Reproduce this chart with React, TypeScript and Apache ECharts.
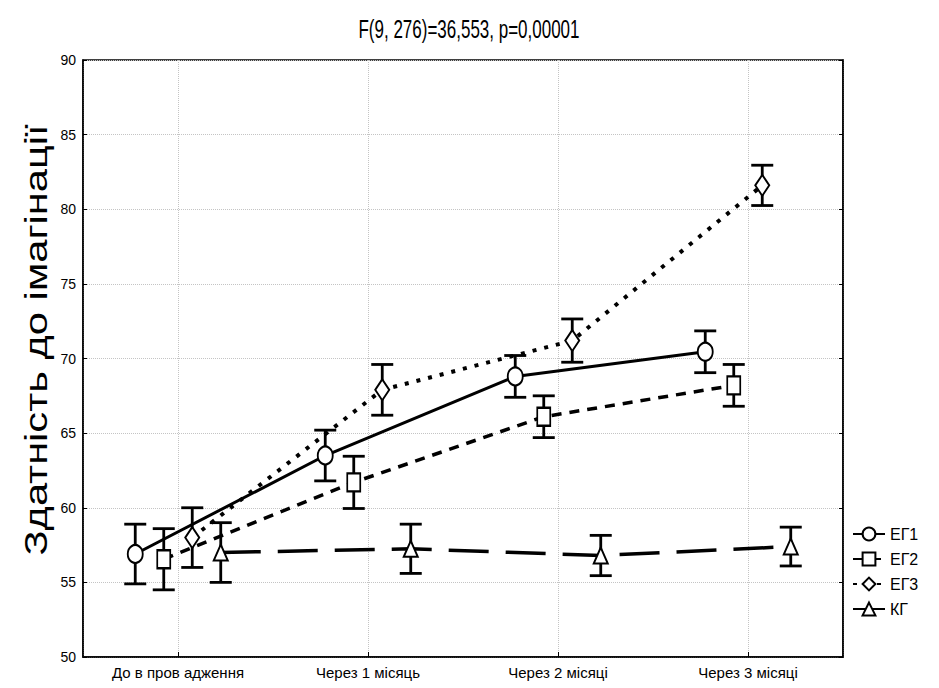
import React, { useEffect, useRef } from "react";
import * as echarts from "echarts";

const TITLE = "F(9, 276)=36,553, p=0,00001";
const Y_NAME = "Здатність до імагінації";
const categories = ["До в пров адження", "Через 1 місяць", "Через 2 місяці", "Через 3 місяці"];
const groupNames = ["ЕГ1", "ЕГ2", "ЕГ3", "КГ"];

const eg1Mean = [56.9, 63.5, 68.8, 70.45];
const eg1Err = [2.0, 1.7, 1.4, 1.4];
const eg2Mean = [56.55, 61.7, 66.1, 68.2];
const eg2Err = [2.05, 1.75, 1.4, 1.4];
const eg3Mean = [58.0, 67.9, 71.2, 81.6];
const eg3Err = [2.0, 1.7, 1.45, 1.35];
const kgMean = [57.0, 57.25, 56.8, 57.4];
const kgErr = [2.0, 1.65, 1.35, 1.3];

const yTicks = { min: 50, max: 90, interval: 5 };

const means = [eg1Mean, eg2Mean, eg3Mean, kgMean];
const errs = [eg1Err, eg2Err, eg3Err, kgErr];

const FONT = "'Liberation Sans', Arial, sans-serif";

export default function App() {
  const ref = useRef<HTMLDivElement>(null);
  useEffect(() => {
    if (!ref.current) return;
    const chart = echarts.init(ref.current, null, { renderer: "svg" });
    const offsets = [-0.225, -0.075, 0.075, 0.225];
    const symbols = ["circle", "rect", "diamond", "triangle"];
    const symbolSizes: any[] = [[15, 18], [13, 18], [14, 21], [14, 16]];
    const lineTypes: any[] = ["solid", [10, 8], [4, 8], [40, 17]];
    const lineWidths = [3, 3.5, 4, 3.5];

    const lineSeries = groupNames.map((name, k) => ({
      name,
      type: "line",
      xAxisIndex: 1,
      yAxisIndex: 0,
      data: means[k].map((v, i) => [i + offsets[k], v]),
      symbol: symbols[k],
      symbolSize: symbolSizes[k],
      showSymbol: true,
      z: 5,
      lineStyle: { color: "#000", width: lineWidths[k], type: lineTypes[k], cap: "butt" },
      itemStyle: { color: "#fff", borderColor: "#000", borderWidth: 2 },
      emphasis: { disabled: true },
    }));

    const errSeries = groupNames.map((name, k) => ({
      name: name + " err",
      type: "custom",
      xAxisIndex: 1,
      yAxisIndex: 0,
      z: 4,
      data: means[k].map((v, i) => [i + offsets[k], v - errs[k][i], v + errs[k][i]]),
      encode: { x: 0, y: [1, 2] },
      renderItem: (params: any, api: any) => {
        const x = api.value(0);
        const lo = api.coord([x, api.value(1)]);
        const hi = api.coord([x, api.value(2)]);
        const hw = 11;
        const style = { stroke: "#000", lineWidth: 2.8, fill: "none" };
        return {
          type: "group",
          children: [
            { type: "line", shape: { x1: lo[0], y1: lo[1], x2: hi[0], y2: hi[1] }, style },
            { type: "line", shape: { x1: lo[0] - hw, y1: lo[1], x2: lo[0] + hw, y2: lo[1] }, style },
            { type: "line", shape: { x1: hi[0] - hw, y1: hi[1], x2: hi[0] + hw, y2: hi[1] }, style },
          ],
        };
      },
    }));

    chart.setOption({
      animation: false,
      backgroundColor: "#fff",
      textStyle: { fontFamily: FONT },
      graphic: [
        {
          type: "text",
          x: 469,
          y: 29,
          scaleY: 1.5,
          style: { text: TITLE, font: `17px ${FONT}`, fill: "#000", textAlign: "center", textVerticalAlign: "middle" },
        },
        {
          type: "text",
          x: 36,
          y: 340,
          rotation: Math.PI / 2,
          scaleX: 1.3,
          style: { text: Y_NAME, font: `32px ${FONT}`, fill: "#000", textAlign: "center", textVerticalAlign: "middle" },
        },
      ],
      grid: { left: 83, top: 60, right: 96, bottom: 31, show: true, borderColor: "#000", borderWidth: 1.5, backgroundColor: "#fff" },
      legend: {
        orient: "vertical",
        left: 852,
        top: 526,
        itemWidth: 32,
        itemHeight: 16,
        itemGap: 9,
        padding: 0,
        data: groupNames,
        textStyle: { fontSize: 16, color: "#000", fontFamily: FONT },
      },
      xAxis: [
        {
          type: "category",
          data: categories,
          boundaryGap: true,
          axisLine: { show: true, onZero: false, lineStyle: { color: "#000", width: 1.5 } },
          axisTick: { show: true, alignWithLabel: true, inside: true, length: 5, lineStyle: { color: "#000" } },
          axisLabel: { fontSize: 15, color: "#000", margin: 8, interval: 0 },
          splitLine: { show: false },
        },
        {
          type: "value",
          min: -0.5,
          max: 3.5,
          splitNumber: 4,
          show: true,
          position: "bottom",
          axisLine: { show: false, onZero: false },
          axisTick: { show: false },
          axisLabel: { show: false },
          splitLine: { show: true, lineStyle: { color: "#c4c4c4", type: "dotted", width: 1 } },
        },
      ],
      yAxis: [
        {
          type: "value",
          position: "left",
          min: yTicks.min,
          max: yTicks.max,
          interval: yTicks.interval,
          axisLine: { show: true, onZero: false, lineStyle: { color: "#000", width: 1.5 } },
          axisTick: { show: true, inside: true, length: 4, lineStyle: { color: "#000" } },
          axisLabel: { fontSize: 14, color: "#000", margin: 7 },
          splitLine: { show: true, lineStyle: { color: "#c4c4c4", type: "dotted", width: 1 } },
        },
        {
          type: "value",
          position: "right",
          min: yTicks.min,
          max: yTicks.max,
          interval: yTicks.interval,
          axisLine: { show: true, onZero: false, lineStyle: { color: "#000", width: 1.5 } },
          axisTick: { show: true, inside: true, length: 4, lineStyle: { color: "#000" } },
          axisLabel: { show: false },
          splitLine: { show: false },
        },
      ],
      series: [...errSeries, ...lineSeries],
    });
    return () => chart.dispose();
  }, []);
  return <div ref={ref} style={{ position: "fixed", left: 0, top: 0, width: 939, height: 688, background: "#fff" }} />;
}
